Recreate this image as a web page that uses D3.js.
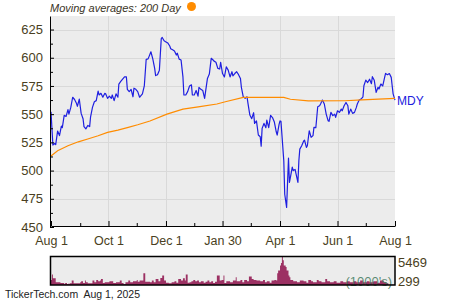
<!DOCTYPE html>
<html>
<head>
<meta charset="utf-8">
<script src="https://cdn.jsdelivr.net/npm/d3@7"></script>
<style>
  body { margin: 0; background: #fff; }
  svg { display: block; font-family: Arial, "Liberation Sans", sans-serif; }
</style>
</head>
<body>
<div id="chart"></div>
<script>
const WIDTH = 450;
const HEIGHT = 300;

// MDY daily close
const mdyClose = [
  ["2024-08-01", 552], ["2024-08-03", 522.6], ["2024-08-05", 524], ["2024-08-06", 523],
  ["2024-08-08", 535], ["2024-08-10", 531], ["2024-08-12", 539.5], ["2024-08-13", 538],
  ["2024-08-15", 549], ["2024-08-17", 548], ["2024-08-19", 554], ["2024-08-20", 550],
  ["2024-08-22", 556], ["2024-08-24", 565], ["2024-08-26", 563], ["2024-08-28", 559.6],
  ["2024-08-29", 557], ["2024-08-31", 563.4], ["2024-09-02", 550.7], ["2024-09-04", 546],
  ["2024-09-05", 539], ["2024-09-07", 537], ["2024-09-09", 540], ["2024-09-11", 539],
  ["2024-09-12", 547.7], ["2024-09-14", 556], ["2024-09-16", 561], ["2024-09-18", 562],
  ["2024-09-20", 570.5], ["2024-09-21", 567], ["2024-09-23", 568.5], ["2024-09-25", 565],
  ["2024-09-27", 568.4], ["2024-09-28", 568], ["2024-09-30", 564], ["2024-10-02", 566],
  ["2024-10-04", 564], ["2024-10-05", 567], ["2024-10-07", 562], ["2024-10-09", 568],
  ["2024-10-11", 565], ["2024-10-12", 576.7], ["2024-10-14", 579], ["2024-10-16", 581],
  ["2024-10-18", 583], ["2024-10-20", 583], ["2024-10-21", 572], ["2024-10-23", 570],
  ["2024-10-25", 572], ["2024-10-27", 565.4], ["2024-10-28", 573], ["2024-10-30", 572],
  ["2024-11-01", 570], ["2024-11-03", 565], ["2024-11-04", 566], ["2024-11-06", 568],
  ["2024-11-08", 575], ["2024-11-10", 598.6], ["2024-11-12", 599], ["2024-11-13", 601],
  ["2024-11-15", 605.3], ["2024-11-17", 599], ["2024-11-19", 590.6], ["2024-11-20", 584.2],
  ["2024-11-22", 585], ["2024-11-24", 589], ["2024-11-26", 617], ["2024-11-27", 618],
  ["2024-11-29", 615], ["2024-12-01", 614], ["2024-12-03", 613], ["2024-12-05", 610.4],
  ["2024-12-06", 608], ["2024-12-08", 607], ["2024-12-10", 606], ["2024-12-12", 602.4],
  ["2024-12-13", 604], ["2024-12-15", 598.8], ["2024-12-17", 598], ["2024-12-19", 583],
  ["2024-12-20", 567], ["2024-12-22", 567], ["2024-12-24", 570], ["2024-12-26", 575],
  ["2024-12-28", 576], ["2024-12-29", 567], ["2024-12-31", 567], ["2025-01-02", 571],
  ["2025-01-04", 566], ["2025-01-05", 573.8], ["2025-01-07", 572], ["2025-01-09", 571],
  ["2025-01-11", 564], ["2025-01-12", 570], ["2025-01-14", 581.7], ["2025-01-16", 585.5],
  ["2025-01-18", 599.5], ["2025-01-20", 598], ["2025-01-21", 597], ["2025-01-23", 596],
  ["2025-01-25", 590.6], ["2025-01-27", 590], ["2025-01-28", 596], ["2025-01-30", 586],
  ["2025-02-01", 583], ["2025-02-03", 592], ["2025-02-05", 589], ["2025-02-07", 583],
  ["2025-02-09", 587.6], ["2025-02-10", 584], ["2025-02-12", 586], ["2025-02-14", 587.6],
  ["2025-02-16", 585], ["2025-02-18", 581.7], ["2025-02-19", 573.8], ["2025-02-21", 565.4],
  ["2025-02-23", 564], ["2025-02-25", 565.4], ["2025-02-26", 559.6], ["2025-02-28", 549.2],
  ["2025-03-02", 546], ["2025-03-04", 551.3], ["2025-03-05", 541.8], ["2025-03-07", 544],
  ["2025-03-09", 531.5], ["2025-03-11", 530], ["2025-03-12", 521.7], ["2025-03-13", 537.4],
  ["2025-03-15", 541.8], ["2025-03-17", 538], ["2025-03-18", 544.8], ["2025-03-20", 538],
  ["2025-03-22", 549], ["2025-03-24", 547], ["2025-03-26", 543], ["2025-03-28", 534.4],
  ["2025-03-29", 531.5], ["2025-03-31", 541], ["2025-04-01", 544], ["2025-04-02", 543.6],
  ["2025-04-05", 508.7], ["2025-04-06", 479], ["2025-04-08", 467.4], ["2025-04-09", 489.5],
  ["2025-04-10", 511], ["2025-04-11", 489.5], ["2025-04-12", 494], ["2025-04-14", 503],
  ["2025-04-15", 500], ["2025-04-17", 501], ["2025-04-18", 497], ["2025-04-20", 489.5],
  ["2025-04-21", 508.7], ["2025-04-22", 519], ["2025-04-24", 522], ["2025-04-26", 526],
  ["2025-04-27", 527], ["2025-04-29", 520.6], ["2025-04-30", 522], ["2025-05-02", 535.3],
  ["2025-05-04", 529.5], ["2025-05-06", 531], ["2025-05-07", 538.3], ["2025-05-09", 538],
  ["2025-05-11", 556.6], ["2025-05-13", 557.5], ["2025-05-14", 559], ["2025-05-16", 562.5],
  ["2025-05-18", 559], ["2025-05-20", 550.1], ["2025-05-22", 544.2], ["2025-05-23", 543.6],
  ["2025-05-25", 551.6], ["2025-05-27", 548.7], ["2025-05-29", 550], ["2025-05-30", 547.2],
  ["2025-06-01", 553], ["2025-06-03", 551.6], ["2025-06-05", 554.5], ["2025-06-06", 553],
  ["2025-06-08", 557.4], ["2025-06-10", 560.4], ["2025-06-12", 557.4], ["2025-06-13", 550],
  ["2025-06-15", 554.5], ["2025-06-17", 550.7], ["2025-06-19", 551.6], ["2025-06-21", 556],
  ["2025-06-22", 559], ["2025-06-24", 562.5], ["2025-06-26", 563.4], ["2025-06-28", 565.4],
  ["2025-06-29", 575.2], ["2025-07-01", 580.2], ["2025-07-03", 578], ["2025-07-05", 581],
  ["2025-07-07", 577], ["2025-07-08", 583.2], ["2025-07-10", 580], ["2025-07-12", 569.3],
  ["2025-07-14", 573.8], ["2025-07-15", 572.3], ["2025-07-17", 576.7], ["2025-07-19", 575],
  ["2025-07-21", 582.6], ["2025-07-22", 586.1], ["2025-07-24", 585], ["2025-07-26", 586],
  ["2025-07-28", 582.6], ["2025-07-29", 575.2], ["2025-07-30", 568], ["2025-08-01", 562.5]
];

// 200 day moving average
const ma200 = [
  ["2024-08-01", 513], ["2024-08-08", 517.6], ["2024-08-19", 522], ["2024-08-30", 525.5],
  ["2024-09-09", 528], ["2024-09-20", 530.9], ["2024-09-30", 533.8], ["2024-10-11", 535.9],
  ["2024-10-22", 538.3], ["2024-11-01", 540.6], ["2024-11-14", 543.9], ["2024-12-02", 550],
  ["2024-12-19", 554.5], ["2025-01-06", 556.6], ["2025-01-24", 559], ["2025-02-02", 561],
  ["2025-02-21", 564.8], ["2025-04-05", 564.8], ["2025-04-12", 563.2], ["2025-05-01", 561.8],
  ["2025-06-09", 561.9], ["2025-06-27", 562.6], ["2025-08-01", 564]
];

// volume, thousands of shares
const volume = [
  ["2024-08-01", 1233], ["2024-08-02", 2230], ["2024-08-03", 1545], ["2024-08-06", 797],
  ["2024-08-11", 673], ["2024-08-15", 486], ["2024-08-16", 673], ["2024-08-18", 486],
  ["2024-08-19", 548], ["2024-08-21", 610], ["2024-08-23", 1109], ["2024-08-25", 610],
  ["2024-09-01", 797], ["2024-09-02", 984], ["2024-09-04", 673], ["2024-09-06", 1109],
  ["2024-09-07", 797], ["2024-09-09", 610], ["2024-09-14", 1109], ["2024-09-16", 797],
  ["2024-09-18", 1233], ["2024-09-20", 984], ["2024-09-22", 1109], ["2024-09-23", 1420],
  ["2024-09-25", 673], ["2024-09-27", 797], ["2024-10-02", 984], ["2024-10-06", 673],
  ["2024-10-09", 797], ["2024-10-13", 1109], ["2024-10-15", 673], ["2024-10-17", 486],
  ["2024-10-19", 797], ["2024-10-22", 1109], ["2024-10-24", 797], ["2024-10-27", 984],
  ["2024-10-31", 1233], ["2024-11-01", 922], ["2024-11-03", 1109], ["2024-11-07", 2480],
  ["2024-11-09", 922], ["2024-11-14", 797], ["2024-11-16", 1109], ["2024-11-18", 797],
  ["2024-11-20", 1420], ["2024-11-23", 984], ["2024-11-25", 1607], ["2024-11-27", 2043],
  ["2024-11-29", 1109], ["2024-12-01", 735], ["2024-12-04", 610], ["2024-12-07", 797],
  ["2024-12-10", 984], ["2024-12-12", 735], ["2024-12-14", 1420], ["2024-12-17", 1109],
  ["2024-12-19", 1545], ["2024-12-21", 1109], ["2024-12-22", 2230], ["2024-12-24", 735],
  ["2024-12-26", 797], ["2024-12-28", 984], ["2024-12-30", 1233], ["2025-01-01", 984],
  ["2025-01-03", 1109], ["2025-01-05", 797], ["2025-01-07", 984], ["2025-01-10", 735],
  ["2025-01-12", 922], ["2025-01-14", 1109], ["2025-01-16", 797], ["2025-01-18", 984],
  ["2025-01-20", 673], ["2025-01-22", 922], ["2025-01-24", 2043], ["2025-01-27", 1109],
  ["2025-01-29", 1233], ["2025-01-31", 2043], ["2025-02-01", 673], ["2025-02-03", 984],
  ["2025-02-07", 797], ["2025-02-10", 1109], ["2025-02-13", 1732], ["2025-02-14", 984],
  ["2025-02-18", 1233], ["2025-02-20", 797], ["2025-02-22", 1233], ["2025-02-25", 984],
  ["2025-02-27", 1857], ["2025-03-02", 1420], ["2025-03-04", 1233], ["2025-03-07", 1109],
  ["2025-03-11", 984], ["2025-03-14", 1233], ["2025-03-16", 797], ["2025-03-18", 984],
  ["2025-03-21", 735], ["2025-03-23", 1109], ["2025-03-26", 1233], ["2025-03-28", 1109],
  ["2025-03-29", 2480], ["2025-03-30", 2978], ["2025-04-01", 3912], ["2025-04-02", 4349],
  ["2025-04-03", 5469], ["2025-04-04", 4847], ["2025-04-05", 3912], ["2025-04-07", 3601],
  ["2025-04-08", 2978], ["2025-04-10", 2043], ["2025-04-11", 1732], ["2025-04-12", 1233],
  ["2025-04-15", 984], ["2025-04-19", 797], ["2025-04-22", 1109], ["2025-04-26", 984],
  ["2025-04-29", 735], ["2025-05-01", 1233], ["2025-05-04", 984], ["2025-05-06", 797],
  ["2025-05-10", 1233], ["2025-05-12", 984], ["2025-05-15", 797], ["2025-05-19", 1420],
  ["2025-05-21", 984], ["2025-05-24", 797], ["2025-05-28", 984], ["2025-05-31", 735],
  ["2025-06-04", 984], ["2025-06-07", 797], ["2025-06-11", 984], ["2025-06-14", 797],
  ["2025-06-18", 984], ["2025-06-21", 797], ["2025-06-25", 1109], ["2025-06-28", 797],
  ["2025-07-02", 984], ["2025-07-05", 797], ["2025-07-09", 984], ["2025-07-13", 735],
  ["2025-07-16", 1109], ["2025-07-20", 797], ["2025-07-23", 610], ["2025-07-25", 361],
  ["2025-08-01", 361]
];

const xTickDates = ["2024-08-01", "2024-10-01", "2024-12-01", "2025-01-30", "2025-04-01", "2025-06-01", "2025-08-01"];
const xTickLabels = ["Aug 1", "Oct 1", "Dec 1", "Jan 30", "Apr 1", "Jun 1", "Aug 1"];
const xMinorDates = ["2024-09-01", "2024-10-31", "2024-12-31", "2025-03-01", "2025-05-01", "2025-07-01"];
const yTicks = [450, 475, 500, 525, 550, 575, 600, 625];
const yMinorTicks = [462.5, 487.5, 512.5, 537.5, 562.5, 587.5, 612.5];
const volLabels = [299, 5469];
const seriesName = "MDY";
const titleText = "Moving averages: 200 Day";
const footerText = "TickerTech.com  Aug 1, 2025";

const parse = d3.timeParse('%Y-%m-%d');
const rows = arr => arr.map(([d, v]) => ({date: parse(d), value: v}));

const plot = {left: 51, right: 395, top: 16, bottom: 227};
const vol = {top: 257, bottom: 285};
const textColour = '#4a3f22';

const svg = d3.select('#chart').append('svg')
  .attr('width', WIDTH)
  .attr('height', HEIGHT);

const x = d3.scaleTime()
  .domain([parse(xTickDates[0]), parse(xTickDates[xTickDates.length - 1])])
  .range([plot.left, plot.right]);

const y = d3.scaleLinear()
  .domain([450, 637])
  .range([plot.bottom, plot.top]);

// Plot background and grid
svg.append('rect')
  .attr('x', plot.left)
  .attr('y', plot.top)
  .attr('width', plot.right - plot.left)
  .attr('height', plot.bottom - plot.top)
  .attr('fill', '#ececec');

svg.append('g').selectAll('line')
  .data(yTicks.slice(1))
  .join('line')
  .attr('x1', plot.left).attr('x2', plot.right)
  .attr('y1', d => Math.round(y(d)) + 0.5).attr('y2', d => Math.round(y(d)) + 0.5)
  .attr('stroke', '#d9d9d9');

svg.append('g').selectAll('line')
  .data(xTickDates.slice(1, -1))
  .join('line')
  .attr('x1', d => Math.round(x(parse(d))) + 0.5).attr('x2', d => Math.round(x(parse(d))) + 0.5)
  .attr('y1', plot.top).attr('y2', plot.bottom)
  .attr('stroke', '#d9d9d9');

// Lines
const line = d3.line()
  .x(d => x(d.date))
  .y(d => y(d.value));

const closeRows = rows(mdyClose);

svg.append('path')
  .datum(closeRows)
  .attr('fill', 'none')
  .attr('stroke', '#1f1fe0')
  .attr('stroke-width', 1.2)
  .attr('stroke-linejoin', 'round')
  .attr('d', line);

svg.append('path')
  .datum(rows(ma200))
  .attr('fill', 'none')
  .attr('stroke', '#ff8c00')
  .attr('stroke-width', 1.2)
  .attr('d', line);

// Axes
svg.append('g')
  .attr('transform', 'translate(50, 0)')
  .call(d3.axisLeft(y).tickValues(yTicks).tickSize(-4).tickSizeOuter(0).tickPadding(7))
  .selectAll('.tick text').attr('font-size', 13);

svg.append('g')
  .attr('transform', 'translate(50, 0)')
  .call(d3.axisLeft(y).tickValues(yMinorTicks).tickSize(-3).tickFormat(''))
  .select('.domain').remove();

svg.append('g')
  .attr('transform', 'translate(0, 226)')
  .call(d3.axisBottom(x)
    .tickValues(xTickDates.map(parse))
    .tickSize(-5)
    .tickSizeOuter(0)
    .tickPadding(10)
    .tickFormat((d, i) => xTickLabels[i]))
  .selectAll('.tick text').attr('font-size', 12.5);

svg.append('g')
  .attr('transform', 'translate(0, 226)')
  .call(d3.axisBottom(x).tickValues(xMinorDates.map(parse)).tickSize(-3).tickFormat(''))
  .select('.domain').remove();

svg.selectAll('.tick text')
  .attr('font-family', 'Arial, "Liberation Sans", sans-serif')
  .attr('fill', textColour);

svg.selectAll('.domain').attr('stroke', '#000').attr('stroke-width', 1);

// Series label at last close
const last = closeRows[closeRows.length - 1];
svg.append('text')
  .attr('x', plot.right + 2)
  .attr('y', y(last.value) + 4.5)
  .attr('font-size', 12)
  .attr('fill', '#2020dd')
  .text(seriesName);

// Title + legend dot
svg.append('text')
  .attr('x', 50)
  .attr('y', 11.5)
  .attr('font-size', 11)
  .attr('font-style', 'italic')
  .attr('fill', '#3a3426')
  .text(titleText);

svg.append('circle')
  .attr('cx', 191.5)
  .attr('cy', 6.5)
  .attr('r', 4.5)
  .attr('fill', '#ff8c00');

// Volume panel
const yv = d3.scaleLinear()
  .domain(volLabels)
  .range([vol.bottom, vol.top]);

svg.append('rect')
  .attr('x', plot.left)
  .attr('y', vol.top)
  .attr('width', plot.right - plot.left)
  .attr('height', vol.bottom - vol.top)
  .attr('fill', '#ececec');

svg.append('path')
  .datum(rows(volume))
  .attr('fill', '#9c3163')
  .attr('d', d3.area()
    .curve(d3.curveStepAfter)
    .x(d => x(d.date))
    .y0(yv(volLabels[0]))
    .y1(d => yv(d.value)));

svg.append('text')
  .attr('x', plot.right - 3)
  .attr('y', vol.bottom + 1)
  .attr('text-anchor', 'end')
  .attr('font-size', 13)
  .attr('fill', '#3f7a5c')
  .attr('fill-opacity', 0.85)
  .text("(1000's)");

svg.append('rect')
  .attr('x', plot.left - 0.5)
  .attr('y', vol.top - 0.5)
  .attr('width', plot.right - plot.left + 0.5)
  .attr('height', vol.bottom - vol.top + 0.5)
  .attr('fill', 'none')
  .attr('stroke', '#000')
  .attr('stroke-width', 1.5);

svg.append('g').selectAll('text')
  .data(volLabels)
  .join('text')
  .attr('x', plot.right + 3)
  .attr('y', (d, i) => i === 0 ? vol.bottom + 1 : vol.top + 10)
  .attr('font-size', 13)
  .attr('fill', textColour)
  .text(d => d);

// Footer
svg.append('text')
  .attr('x', 5)
  .attr('y', 298)
  .attr('font-size', 10.5)
  .attr('fill', '#222')
  .style('white-space', 'pre')
  .text(footerText);
</script>
</body>
</html>
